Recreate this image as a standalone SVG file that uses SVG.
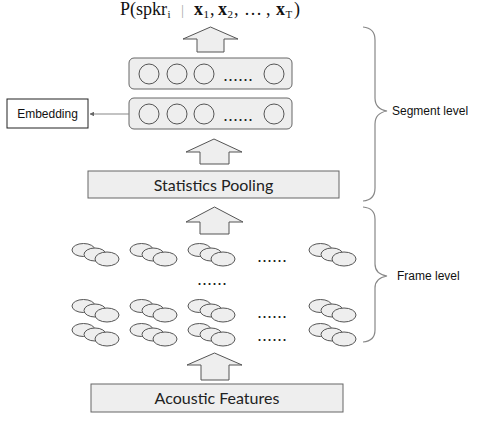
<svg xmlns="http://www.w3.org/2000/svg" width="488" height="442" viewBox="0 0 488 442">
<defs>
<style>
.box{fill:#eeeeee;stroke:#666;stroke-width:1}
.arrow{fill:#eeeeee;stroke:#555;stroke-width:1}
.nd{fill:none;stroke:#555;stroke-width:1}
.el{fill:#eeeeee;stroke:#555;stroke-width:1}
.brace{fill:none;stroke:#888;stroke-width:1.2}
.lbl{font-family:"Lato","Liberation Sans",sans-serif;font-size:16px;fill:#222}
.sm{font-family:"Liberation Sans",Arial,sans-serif;font-size:12px;fill:#111}
.dots{font-family:"Liberation Sans",Arial,sans-serif;font-size:18px;fill:#222}
.math{font-family:"Liberation Serif","Times New Roman",serif;font-size:18px;fill:#111}
.sub{font-size:11px}
.b{font-weight:bold}
</style>
<marker id="ah" viewBox="0 0 10 10" refX="9" refY="5" markerWidth="4" markerHeight="4" orient="auto-start-reverse">
<path d="M0,0 L10,5 L0,10 z" fill="#666"/>
</marker>
<g id="cl">
<ellipse class="el" cx="11.5" cy="7" rx="11.5" ry="6.5"/>
<ellipse class="el" cx="23" cy="11.5" rx="11" ry="6.5"/>
<ellipse class="el" cx="35" cy="16" rx="12" ry="7"/>
</g>
</defs>
<rect width="488" height="442" fill="#ffffff"/>

<g id="title">
<text class="math" y="15"><tspan x="120">P(spkr</tspan><tspan x="167.5" y="18" class="sub">i</tspan><tspan x="181" y="15" fill="#aaa" font-size="15">|</tspan><tspan x="194" class="b">x</tspan><tspan x="203.5" y="18" class="sub">1</tspan><tspan x="210" y="15">,</tspan><tspan x="218" class="b">x</tspan><tspan x="227.5" y="18" class="sub">2</tspan><tspan x="234" y="15">,</tspan><tspan x="244">…</tspan><tspan x="266">,</tspan><tspan x="276" class="b">x</tspan><tspan x="285.5" y="18" class="sub">T</tspan><tspan x="294" y="15">)</tspan></text>
</g>

<g id="layer2">
<rect class="box" x="129" y="58" width="163" height="31" rx="5"/>
<circle class="nd" cx="149" cy="74" r="10"/>
<circle class="nd" cx="177" cy="74" r="10"/>
<circle class="nd" cx="204" cy="74" r="10"/>
<text class="dots" x="223" y="81">......</text>
<circle class="nd" cx="274" cy="74" r="10"/>
</g>

<g id="layer1">
<rect class="box" x="129" y="98" width="163" height="31" rx="5"/>
<circle class="nd" cx="149" cy="114" r="10"/>
<circle class="nd" cx="177" cy="114" r="10"/>
<circle class="nd" cx="204" cy="114" r="10"/>
<text class="dots" x="223" y="121">......</text>
<circle class="nd" cx="274" cy="114" r="10"/>
</g>

<g id="embedding">
<rect x="7" y="99" width="81" height="29" fill="#fff" stroke="#222" stroke-width="1"/>
<text class="sm" x="47.5" y="118" text-anchor="middle">Embedding</text>
</g>

<g id="stats">
<rect class="box" x="88" y="171" width="251" height="27"/>
<text class="lbl" x="213.5" y="191" text-anchor="middle">Statistics Pooling</text>
</g>

<g id="frames">
<use href="#cl" x="72" y="243"/><use href="#cl" x="130" y="243"/><use href="#cl" x="188" y="243"/><use href="#cl" x="309" y="243"/>
<text class="dots" x="257" y="262">......</text>
<text class="dots" x="197" y="285" font-size="16">......</text>
<use href="#cl" x="72" y="299"/><use href="#cl" x="130" y="299"/><use href="#cl" x="188" y="299"/><use href="#cl" x="309" y="299"/>
<text class="dots" x="257" y="318">......</text>
<use href="#cl" x="72" y="323"/><use href="#cl" x="130" y="323"/><use href="#cl" x="188" y="323"/><use href="#cl" x="309" y="323"/>
<text class="dots" x="257" y="341">......</text>
</g>

<g id="acoustic">
<rect class="box" x="91" y="384" width="252" height="28"/>
<text class="lbl" x="217" y="404" text-anchor="middle">Acoustic Features</text>
</g>

<g id="connectors">
<polygon class="arrow" points="197,52 197,39 183,39 210.5,27 238,39 224,39 224,52"/>
<polygon class="arrow" points="200,164 200,152 186,152 214,139 242,152 229,152 229,164"/>
<polygon class="arrow" points="200,234 200,222 186,222 214.5,207 243,222 229,222 229,234"/>
<polygon class="arrow" points="201,380 201,365 187,365 214.5,353 242,365 229,365 229,380"/>
<line x1="129" y1="114" x2="90" y2="114" stroke="#888" stroke-width="1.2" marker-end="url(#ah)"/>
</g>

<g id="segment-brace">
<path class="brace" d="M363,27 Q375,28 375,40 L375,98 Q375,109 387,111 Q375,113 375,124 L375,188 Q375,200 363,201"/>
<text class="sm" x="392" y="115">Segment level</text>
</g>

<g id="frame-brace">
<path class="brace" d="M363,207 Q375,208 375,219 L375,264 Q375,274 387,276 Q375,278 375,288 L375,330 Q375,341 363,342"/>
<text class="sm" x="397" y="280">Frame level</text>
</g>
</svg>
